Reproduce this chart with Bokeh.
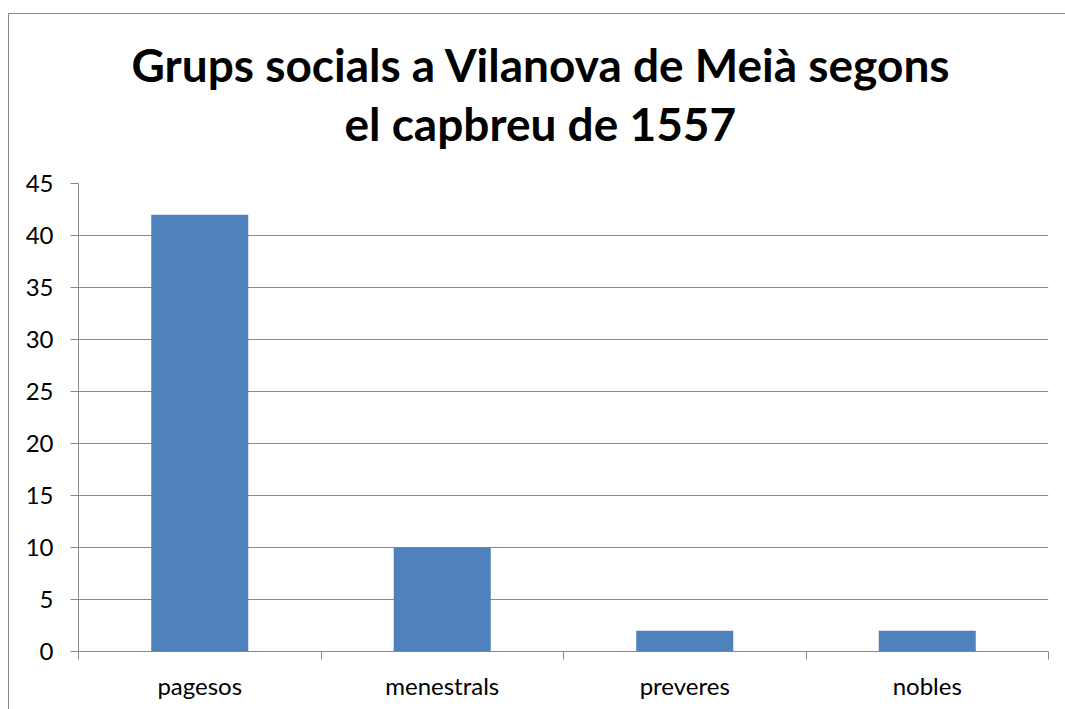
from bokeh.plotting import figure
from bokeh.models import FixedTicker, Range1d, Spacer, Title
from bokeh.layouts import column, row
from bokeh.embed import file_html
from bokeh.resources import INLINE
import numpy as np

categories = ["pagesos", "menestrals", "preveres", "nobles"]
values = [42, 10, 2, 2]
y_ticks = [0, 5, 10, 15, 20, 25, 30, 35, 40, 45]
title_lines = ["Grups socials a Vilanova de Meià  segons", "el capbreu de 1557"]

GRID = "#878787"
BAR = "#4F81BD"

xs = np.arange(len(categories)) + 0.5

p = figure(width=1057, height=696, output_backend="svg", toolbar_location=None, title=None,
           x_range=Range1d(0, len(categories)), y_range=Range1d(0, 45),
           min_border_left=69, min_border_right=18, min_border_top=169, min_border_bottom=59)
p.styles = {"border-left": "1px solid " + GRID, "border-top": "1px solid " + GRID}

p.vbar(x=xs, top=values, width=0.4, fill_color=BAR, line_color=None)

# thin spacer between the frame and the title block
p.add_layout(Title(text=" ", text_font_size="1px", standoff=29), "above")

# title lines, closest to the plot first
title_offsets = [266, 53]
title_standoffs = [2, 2]
for line, off, so in zip(reversed(title_lines), title_offsets, title_standoffs):
    t = Title(text=line, align="left", text_font="Lato", text_font_style="bold",
              text_font_size="46px", text_color="#000000", offset=off, standoff=so)
    p.add_layout(t, "above")

p.outline_line_color = None
p.xgrid.grid_line_color = None
p.ygrid.grid_line_color = GRID
p.ygrid.grid_line_width = 1

p.yaxis.ticker = FixedTicker(ticks=y_ticks)
p.yaxis.axis_line_color = GRID
p.yaxis.major_tick_line_color = GRID
p.yaxis.major_tick_out = 8
p.yaxis.major_tick_in = 0
p.yaxis.minor_tick_line_color = None
p.yaxis.major_label_text_font = "Lato"
p.yaxis.major_label_text_font_size = "24px"
p.yaxis.major_label_text_color = "#000000"
p.yaxis.major_label_standoff = 17

p.xaxis.ticker = FixedTicker(ticks=list(xs), minor_ticks=list(range(len(categories) + 1)))
p.xaxis.major_label_overrides = {float(x): c for x, c in zip(xs, categories)}
p.xaxis.axis_line_color = GRID
p.xaxis.major_tick_line_color = None
p.xaxis.minor_tick_line_color = GRID
p.xaxis.minor_tick_out = 8
p.xaxis.minor_tick_in = 0
p.xaxis.major_label_text_font = "Lato"
p.xaxis.major_label_text_font_size = "24px"
p.xaxis.major_label_text_color = "#000000"
p.xaxis.major_label_standoff = 11

layout = column(Spacer(height=13, width=1065), row(Spacer(width=8, height=696), p, spacing=0), spacing=0)
open("out.html", "w").write(file_html(layout, INLINE))
